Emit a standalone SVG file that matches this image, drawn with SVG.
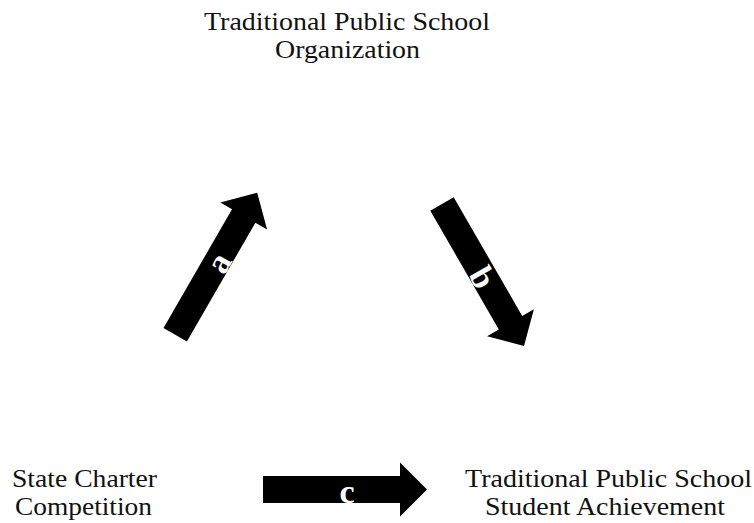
<svg xmlns="http://www.w3.org/2000/svg" width="754" height="523" viewBox="0 0 754 523">
  <defs>
    <style>
      .lbl { font-family: "Liberation Serif", "Times New Roman", serif; font-size: 25px; fill: #111; }
      .arr { fill: #000; }
      .atxt { font-family: "Liberation Serif", "Times New Roman", serif; font-size: 34px; font-weight: bold; fill: #fff; text-anchor: middle; }
    </style>
    <path id="blockArrow" class="arr" d="M0,-13.5 L137,-13.5 L137,-27 L164,0 L137,27 L137,13.5 L0,13.5 Z"/>
  </defs>
  <rect width="754" height="523" fill="#fff"/>

  <g id="node-organization">
    <text class="lbl" x="204" y="30" textLength="286" lengthAdjust="spacingAndGlyphs">Traditional Public School</text>
    <text class="lbl" x="275" y="58" textLength="145" lengthAdjust="spacingAndGlyphs">Organization</text>
  </g>
  <g id="node-competition">
    <text class="lbl" x="12" y="487" textLength="145" lengthAdjust="spacingAndGlyphs">State Charter</text>
    <text class="lbl" x="15" y="515" textLength="137" lengthAdjust="spacingAndGlyphs">Competition</text>
  </g>
  <g id="node-achievement">
    <text class="lbl" x="465" y="487" textLength="287" lengthAdjust="spacingAndGlyphs">Traditional Public School</text>
    <text class="lbl" x="485" y="515" textLength="240" lengthAdjust="spacingAndGlyphs">Student Achievement</text>
  </g>

  <g id="connectors">
    <g id="arrow-a" transform="translate(175.2,334.7) rotate(-60)">
      <use href="#blockArrow"/>
      <text class="atxt" x="84" y="13">a</text>
    </g>
    <g id="arrow-b" transform="translate(442,204) rotate(60)">
      <use href="#blockArrow"/>
      <text class="atxt" x="84" y="13">b</text>
    </g>
    <g id="arrow-c" transform="translate(263,489.5)">
      <use href="#blockArrow"/>
      <text class="atxt" x="84" y="13">c</text>
    </g>
  </g>
</svg>
